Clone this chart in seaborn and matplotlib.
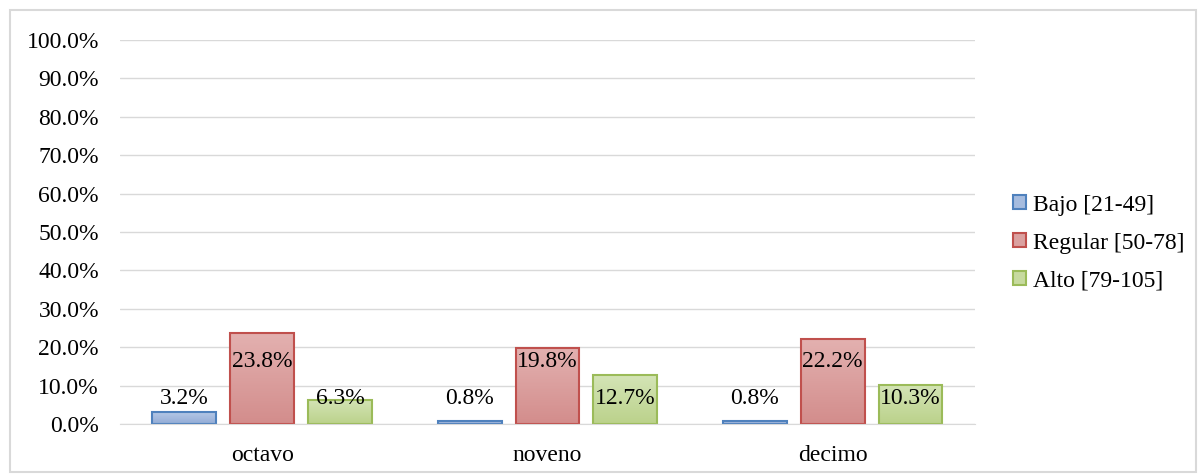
import matplotlib.pyplot as plt
import matplotlib.patches as mpatches
import numpy as np
import pandas as pd
import seaborn as sns
from matplotlib.colors import LinearSegmentedColormap
from matplotlib.ticker import MultipleLocator, FuncFormatter

sns.set_style("white")
plt.rcParams["font.family"] = ["Liberation Serif", "DejaVu Serif"]

grades = ["octavo", "noveno", "decimo"]
series = ["Bajo [21-49]", "Regular [50-78]", "Alto [79-105]"]
bajo = [3.2, 0.8, 0.8]
regular = [23.8, 19.8, 22.2]
alto = [6.3, 12.7, 10.3]

face = ["#a6bcdf", "#dba1a0", "#c7da9f"]
top_col = ["#b7c9e7", "#e3b1b0", "#d4e4b6"]
bot_col = ["#93acd6", "#d38d8c", "#bbd28b"]
edge = ["#4f81bd", "#c0504d", "#9bbb59"]
label_y = [6.8, 16.3, 6.8]

rows = []
for s, vals in zip(series, [bajo, regular, alto]):
    for g, v in zip(grades, vals):
        rows.append({"grado": g, "nivel": s, "pct": v})
df = pd.DataFrame(rows)

fig = plt.figure(figsize=(11.98, 4.74), dpi=100)
ax = fig.add_axes([0.100, 0.105, 0.714, 0.811])

sns.barplot(data=df, x="grado", y="pct", hue="nivel", order=grades,
            hue_order=series, palette=face, saturation=1, width=0.82, gap=0.18,
            linewidth=1.5, ax=ax, legend=False)

grad = np.linspace(0, 1, 64).reshape(-1, 1)
for i, cont in enumerate(ax.containers):
    cmap = LinearSegmentedColormap.from_list(f"g{i}", [bot_col[i], top_col[i]])
    vals = [bajo, regular, alto][i]
    for bar, v in zip(cont, vals):
        x0, w, h = bar.get_x(), bar.get_width(), bar.get_height()
        im = ax.imshow(grad, extent=[x0, x0 + w, 0, h], origin="lower",
                       aspect="auto", cmap=cmap, zorder=bar.get_zorder())
        im.set_clip_path(bar)
        bar.set_facecolor("none")
        bar.set_edgecolor(edge[i])
        bar.set_linewidth(1.5)
        bar.set_zorder(bar.get_zorder() + 0.1)
        ax.text(x0 + w / 2, label_y[i], f"{v:.1f}%",
                ha="center", va="center", fontsize=17, color="black", zorder=5)

ax.set_ylim(0, 100)
ax.set_xlim(-0.5, 2.5)
ax.yaxis.set_major_locator(MultipleLocator(10))
ax.yaxis.set_major_formatter(FuncFormatter(lambda v, p: f"{v:.1f}%"))
ax.grid(axis="y", color="#d9d9d9", linewidth=1)
ax.set_axisbelow(True)
for s in ["top", "right", "left"]:
    ax.spines[s].set_visible(False)
ax.spines["bottom"].set_color("#d9d9d9")
ax.tick_params(axis="both", length=0, labelsize=17, colors="black")
ax.tick_params(axis="y", pad=15)
ax.tick_params(axis="x", pad=15)
ax.set_xlabel("")
ax.set_ylabel("")

handles = [mpatches.Patch(facecolor=f, edgecolor=e, linewidth=1.5, label=s)
           for f, e, s in zip(face, edge, series)]
fig.legend(handles=handles, loc="center left", bbox_to_anchor=(0.828, 0.487),
           frameon=False, fontsize=17, handlelength=0.55, handleheight=0.55,
           handletextpad=0.3, labelspacing=0.72, labelcolor="black")

fig.patches.append(mpatches.Rectangle((0.008, 0.004), 0.99, 0.975,
                                      transform=fig.transFigure, fill=False,
                                      edgecolor="#d9d9d9", linewidth=1.5))

fig.savefig("out.png", dpi=100)
